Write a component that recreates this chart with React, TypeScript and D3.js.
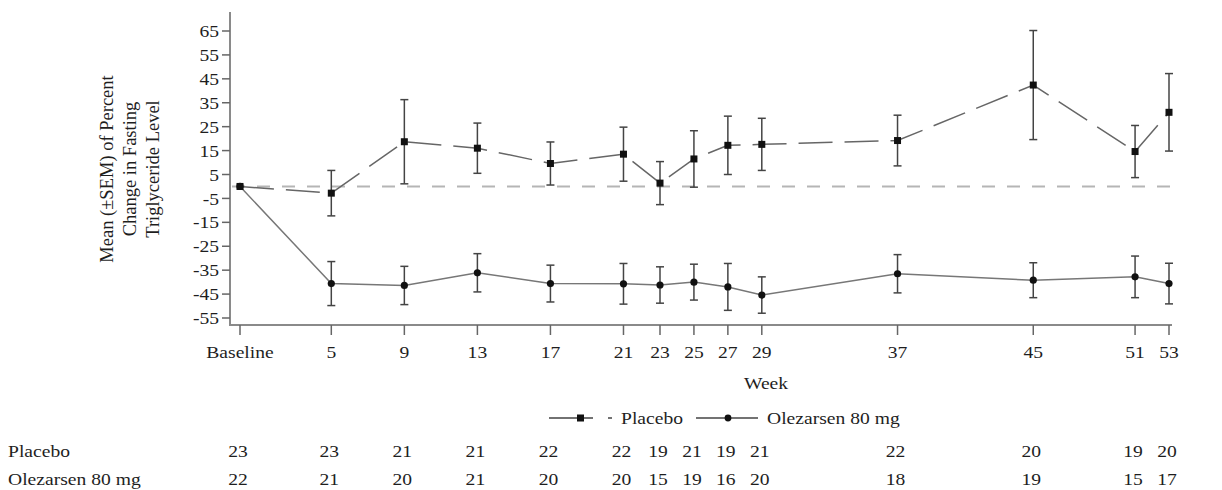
import React, { useEffect, useRef } from 'react';
import * as d3 from 'd3';

// visit weeks (Baseline = week 0)
const weeks = [0, 5, 9, 13, 17, 21, 23, 25, 27, 29, 37, 45, 51, 53];
const weekLabels = ['Baseline', '5', '9', '13', '17', '21', '23', '25', '27', '29', '37', '45', '51', '53'];

const placeboMean = [0, -2.8, 18.7, 16, 9.6, 13.5, 1.4, 11.5, 17.2, 17.6, 19.2, 42.4, 14.6, 31];
const placeboSem = [0, 9.5, 17.6, 10.5, 9, 11.3, 9, 11.8, 12.2, 10.9, 10.6, 22.8, 10.9, 16.2];
const olezMean = [0, -40.6, -41.4, -36.1, -40.6, -40.7, -41.2, -40, -42, -45.4, -36.5, -39.2, -37.8, -40.6];
const olezSem = [0, 9.2, 8, 8, 7.7, 8.5, 7.6, 7.5, 9.8, 7.6, 8, 7.3, 8.7, 8.5];

const placeboN = [23, 23, 21, 21, 22, 22, 19, 21, 19, 21, 22, 20, 19, 20];
const olezN = [22, 21, 20, 21, 20, 20, 15, 19, 16, 20, 18, 19, 15, 17];

const yTicks = d3.range(-55, 66, 10);
const yTitle = ['Mean (\u00b1SEM) of Percent', 'Change in Fasting', 'Triglyceride Level'];

const FONT = "'Liberation Serif', 'Times New Roman', serif";
const FS = 17.5;
const STRETCH = 1.12; // the source picture is a little wider than tall

function App() {
    const ref = useRef<SVGSVGElement | null>(null);

    useEffect(() => {
        const svg = d3.select(ref.current);
        svg.selectAll('*').remove();
        svg.style('font-family', FONT);

        // horizontally stretched label
        const label = (parent: any, px: number, py: number, str: string | number, anchor = 'start') =>
            parent.append('text')
                .attr('transform', `translate(${px},${py}) scale(${STRETCH},1)`)
                .attr('dy', '0.35em')
                .attr('text-anchor', anchor)
                .style('font-size', FS + 'px')
                .attr('fill', '#1e1e1e')
                .text(str);

        // x axis is a bit wider before week 23 in the original
        const x = d3.scaleLinear().domain([0, 23, 53]).range([240, 660, 1169]);
        const y = d3.scaleLinear().domain([-55, 65]).range([318, 31]);
        const axisLeft = 230, axisBottom = 325, axisTop = 12, axisRight = 1172;
        const axisColor = '#8a8a8a';

        // axes
        svg.append('line')
            .attr('x1', axisLeft).attr('x2', axisLeft)
            .attr('y1', axisTop).attr('y2', axisBottom)
            .attr('stroke', axisColor).attr('stroke-width', 2);
        svg.append('line')
            .attr('x1', axisLeft - 1).attr('x2', axisRight)
            .attr('y1', axisBottom).attr('y2', axisBottom)
            .attr('stroke', axisColor).attr('stroke-width', 2);

        const yt = svg.append('g');
        yt.selectAll('line').data(yTicks).enter().append('line')
            .attr('x1', axisLeft - 8).attr('x2', axisLeft)
            .attr('y1', d => y(d)).attr('y2', d => y(d))
            .attr('stroke', '#666').attr('stroke-width', 1.5);
        yTicks.forEach(t => label(yt, axisLeft - 11, y(t), t, 'end'));

        const xt = svg.append('g');
        xt.selectAll('line').data(weeks).enter().append('line')
            .attr('x1', d => x(d)).attr('x2', d => x(d))
            .attr('y1', axisBottom).attr('y2', axisBottom + 10)
            .attr('stroke', '#666').attr('stroke-width', 1.5);
        weeks.forEach((w, i) => label(xt, x(w), 352, weekLabels[i], 'middle'));

        label(svg, 766, 383, 'Week', 'middle');

        // y title
        svg.append('g')
            .attr('transform', 'translate(130,169) rotate(-90)')
            .selectAll('text').data(yTitle).enter().append('text')
            .attr('x', 0).attr('y', (d, i) => (i - 1) * 23)
            .attr('dy', '0.35em')
            .attr('text-anchor', 'middle')
            .style('font-size', '18.5px')
            .attr('fill', '#1e1e1e')
            .text(d => d);

        // zero reference
        svg.append('line')
            .attr('x1', axisLeft + 2).attr('x2', axisRight)
            .attr('y1', y(0)).attr('y2', y(0))
            .attr('stroke', '#b5b5b5').attr('stroke-width', 2)
            .attr('stroke-dasharray', '13,12');

        const line = d3.line<number>().x((d, i) => x(weeks[i])).y(d => y(d));

        svg.append('path')
            .attr('d', line(olezMean))
            .attr('fill', 'none').attr('stroke', '#777').attr('stroke-width', 1.5);
        svg.append('path')
            .attr('d', line(placeboMean))
            .attr('fill', 'none').attr('stroke', '#666').attr('stroke-width', 1.5)
            .attr('stroke-dasharray', '34,12');

        // error bars
        const drawBars = (mean: number[], sem: number[]) => {
            const g = svg.append('g').attr('stroke', '#444').attr('stroke-width', 1.5);
            weeks.forEach((w, i) => {
                if (sem[i] === 0) return;
                const cx = x(w), top = y(mean[i] + sem[i]), bot = y(mean[i] - sem[i]);
                g.append('line').attr('x1', cx).attr('x2', cx).attr('y1', top).attr('y2', bot);
                g.append('line').attr('x1', cx - 4).attr('x2', cx + 4).attr('y1', top).attr('y2', top);
                g.append('line').attr('x1', cx - 4).attr('x2', cx + 4).attr('y1', bot).attr('y2', bot);
            });
        };
        drawBars(placeboMean, placeboSem);
        drawBars(olezMean, olezSem);

        // markers
        svg.append('g').selectAll('rect').data(placeboMean).enter().append('rect')
            .attr('x', (d, i) => x(weeks[i]) - 3.5).attr('y', d => y(d) - 3.5)
            .attr('width', 7).attr('height', 7).attr('fill', '#111');
        svg.append('g').selectAll('circle').data(olezMean).enter().append('circle')
            .attr('cx', (d, i) => x(weeks[i])).attr('cy', d => y(d))
            .attr('r', 3.6).attr('fill', '#111');

        // legend
        const lg = svg.append('g').attr('transform', 'translate(0,418)');
        lg.append('line').attr('x1', 549).attr('x2', 612).attr('y1', 0).attr('y2', 0)
            .attr('stroke', '#444').attr('stroke-width', 1.5).attr('stroke-dasharray', '44,15,4');
        lg.append('rect').attr('x', 577).attr('y', -3.5).attr('width', 7).attr('height', 7).attr('fill', '#111');
        label(lg, 621, 0, 'Placebo');
        lg.append('line').attr('x1', 696).attr('x2', 758).attr('y1', 0).attr('y2', 0)
            .attr('stroke', '#444').attr('stroke-width', 1.5);
        lg.append('circle').attr('cx', 728).attr('cy', 0).attr('r', 3.4).attr('fill', '#111');
        label(lg, 767, 0, 'Olezarsen 80 mg');

        // numbers at risk table
        const rows = [
            { name: 'Placebo', n: placeboN, yPos: 451 },
            { name: 'Olezarsen 80 mg', n: olezN, yPos: 479 }
        ];
        rows.forEach(r => {
            const g = svg.append('g');
            label(g, 8, r.yPos, r.name);
            r.n.forEach((v, i) => label(g, x(weeks[i]) - 2, r.yPos, v, 'middle'));
        });
    }, []);

    return (
        <svg ref={ref} width={1222} height={490}
            style={{ position: 'absolute', left: 0, top: 0, background: '#fff' }} />
    );
}

export default App;
